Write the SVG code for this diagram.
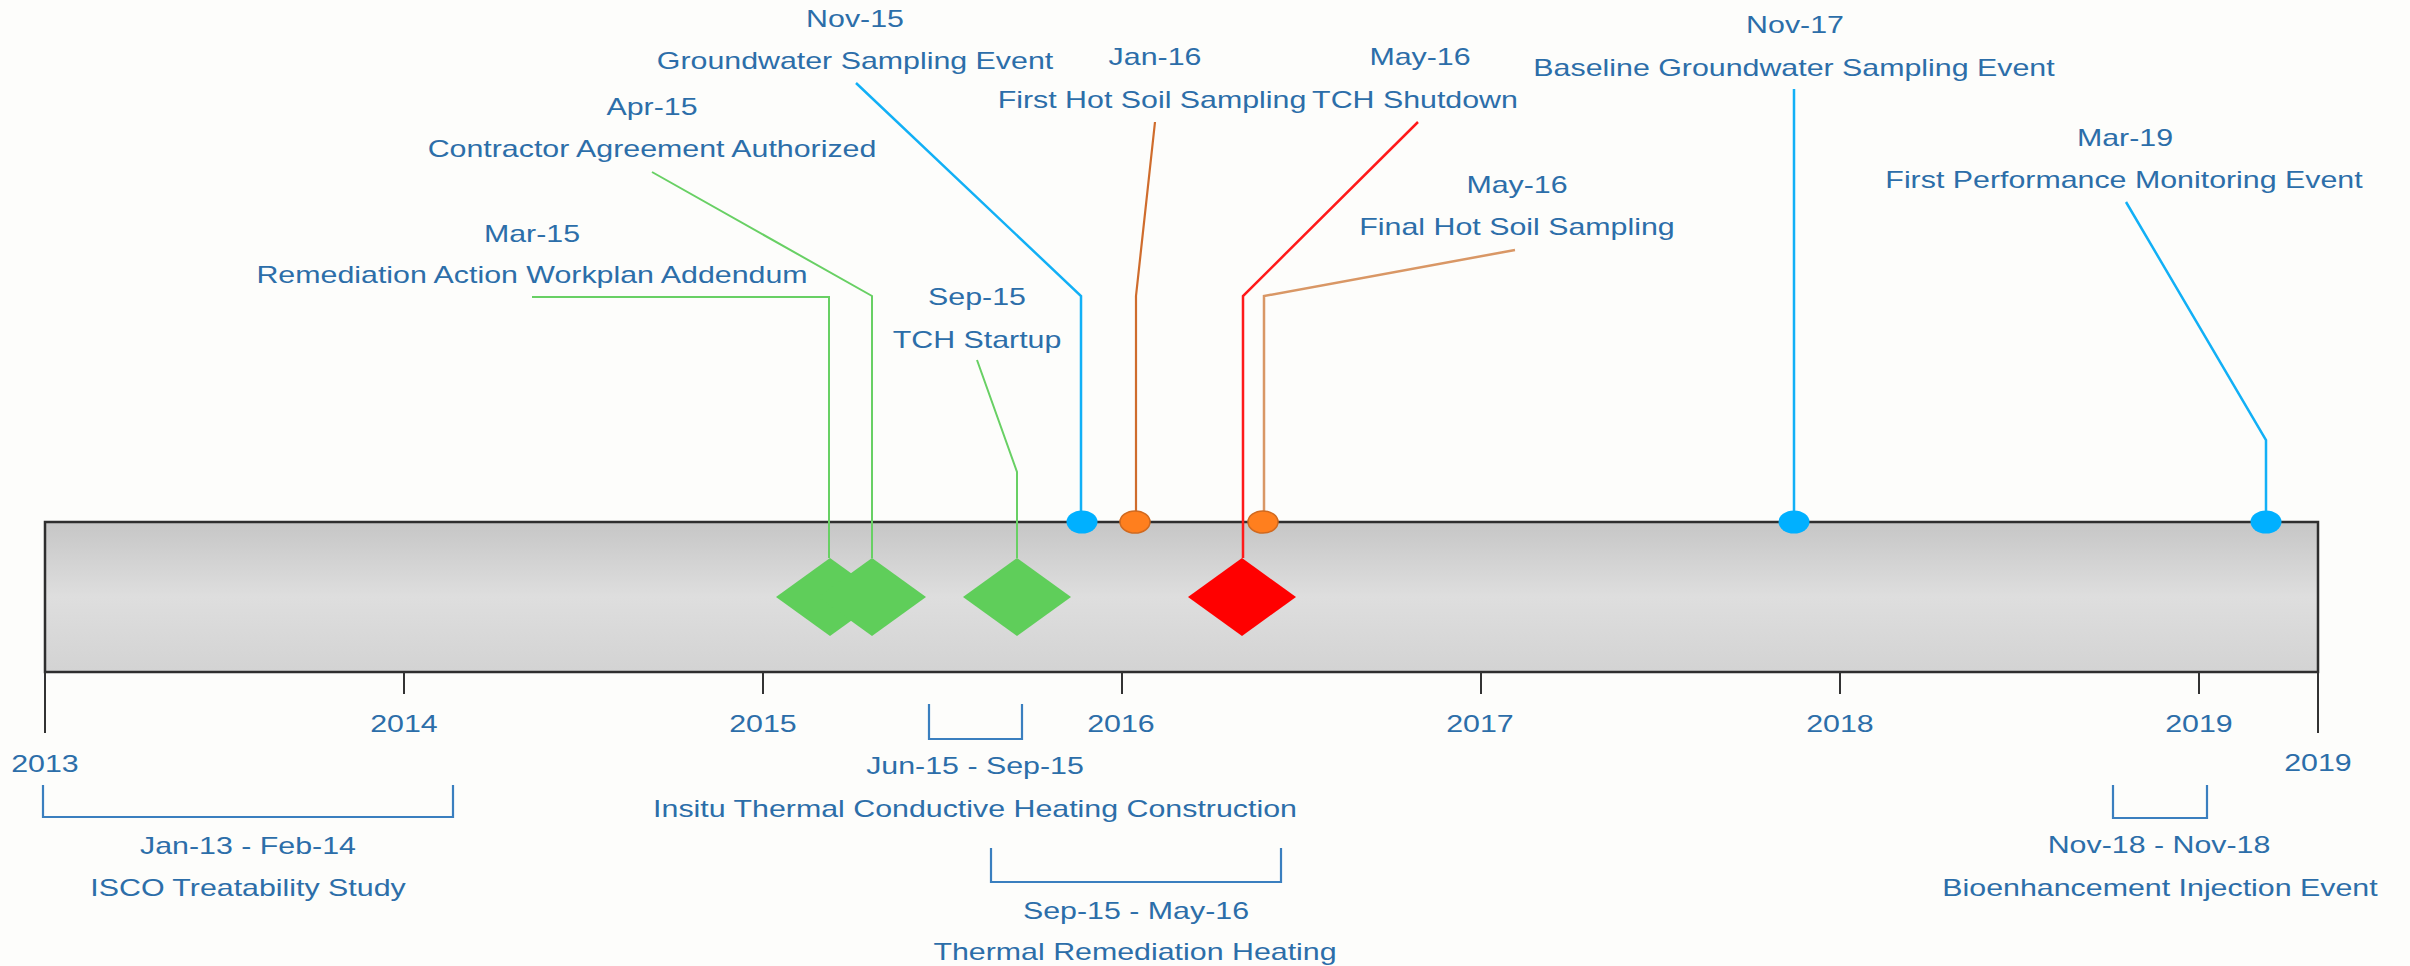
<svg xmlns="http://www.w3.org/2000/svg" width="2410" height="966" viewBox="0 0 2410 966">
  <defs>
    <linearGradient id="barFill" x1="0" y1="0" x2="0" y2="1">
      <stop offset="0" stop-color="#c6c6c6"/>
      <stop offset="0.5" stop-color="#dedede"/>
      <stop offset="1" stop-color="#d3d3d3"/>
    </linearGradient>
    <style>
      text { font-family: "Liberation Sans", Arial, sans-serif; font-size: 23px; fill: #2c6ea9; text-anchor: middle; }
      .tick { stroke: #333333; stroke-width: 2; fill: none; }
      .bracket { stroke: #3a7fbf; stroke-width: 2.2; fill: none; }
      .lead-green { stroke: #68d064; stroke-width: 2; fill: none; }
      .lead-blue { stroke: #12b0f6; stroke-width: 2.5; fill: none; }
      .lead-red { stroke: #ff1a1a; stroke-width: 2.5; fill: none; }
      .lead-orange { stroke: #cf6c2c; stroke-width: 2.2; fill: none; }
      .lead-tan { stroke: #d99765; stroke-width: 2.5; fill: none; }
      .dia-green { fill: #5fce5a; }
      .dia-red { fill: #ff0000; }
      .dot-blue { fill: #00b0ff; }
      .dot-orange { fill: #ff7f1e; stroke: #d0691f; stroke-width: 1.5; }
    </style>
  </defs>

  <rect x="0" y="0" width="2410" height="966" fill="#fdfdfb"/>

  <!-- time axis: bar, year ticks and year labels -->
  <g id="axis">
    <rect x="45" y="522" width="2273" height="150" fill="url(#barFill)" stroke="#2e2e2e" stroke-width="2.5"/>
    <path class="tick" d="M45 672V733M404 672V694M763 672V694M1122 672V694M1481 672V694M1840 672V694M2199 672V694M2318 672V733"/>
    <text transform="translate(45,772) scale(1.32,1)">2013</text>
    <text transform="translate(404,732) scale(1.32,1)">2014</text>
    <text transform="translate(763,732) scale(1.32,1)">2015</text>
    <text transform="translate(1121,732) scale(1.32,1)">2016</text>
    <text transform="translate(1480,732) scale(1.32,1)">2017</text>
    <text transform="translate(1840,732) scale(1.32,1)">2018</text>
    <text transform="translate(2199,732) scale(1.32,1)">2019</text>
    <text transform="translate(2318,771) scale(1.32,1)">2019</text>
  </g>

  <!-- leader lines from labels to markers -->
  <g id="connectors">
    <path class="lead-green" d="M532 297H829V558"/>
    <path class="lead-green" d="M652 172L872 296V558"/>
    <path class="lead-green" d="M977 360L1017 472V558"/>
    <path class="lead-blue" d="M856 83L1081 296V512"/>
    <path class="lead-orange" d="M1155 122L1136 296V512"/>
    <path class="lead-red" d="M1418 122L1243 296V558"/>
    <path class="lead-tan" d="M1515 250L1264 296V512"/>
    <path class="lead-blue" d="M1794 89V512"/>
    <path class="lead-blue" d="M2126 202L2266 440V512"/>
  </g>

  <!-- milestone events -->
  <g id="ev-mar15">
    <polygon class="dia-green" points="830,558 884,597 830,636 776,597"/>
    <text transform="translate(532,242) scale(1.32,1)">Mar-15</text>
    <text transform="translate(532,283) scale(1.32,1)">Remediation Action Workplan Addendum</text>
  </g>
  <g id="ev-apr15">
    <polygon class="dia-green" points="872,558 926,597 872,636 818,597"/>
    <text transform="translate(652,115) scale(1.32,1)">Apr-15</text>
    <text transform="translate(652,157) scale(1.32,1)">Contractor Agreement Authorized</text>
  </g>
  <g id="ev-sep15">
    <polygon class="dia-green" points="1017,558 1071,597 1017,636 963,597"/>
    <text transform="translate(977,305) scale(1.32,1)">Sep-15</text>
    <text transform="translate(977,348) scale(1.32,1)">TCH Startup</text>
  </g>
  <g id="ev-nov15">
    <ellipse class="dot-blue" cx="1082" cy="522" rx="15.5" ry="11.5"/>
    <text transform="translate(855,27) scale(1.32,1)">Nov-15</text>
    <text transform="translate(855,69) scale(1.32,1)">Groundwater Sampling Event</text>
  </g>
  <g id="ev-jan16">
    <ellipse class="dot-orange" cx="1135" cy="522" rx="15" ry="11"/>
    <text transform="translate(1155,65) scale(1.32,1)">Jan-16</text>
    <text transform="translate(1152,108) scale(1.32,1)">First Hot Soil Sampling</text>
  </g>
  <g id="ev-may16-shutdown">
    <polygon class="dia-red" points="1242,558 1296,597 1242,636 1188,597"/>
    <text transform="translate(1420,65) scale(1.32,1)">May-16</text>
    <text transform="translate(1415,108) scale(1.32,1)">TCH Shutdown</text>
  </g>
  <g id="ev-may16-final">
    <ellipse class="dot-orange" cx="1263" cy="522" rx="15" ry="11"/>
    <text transform="translate(1517,193) scale(1.32,1)">May-16</text>
    <text transform="translate(1517,235) scale(1.32,1)">Final Hot Soil Sampling</text>
  </g>
  <g id="ev-nov17">
    <ellipse class="dot-blue" cx="1794" cy="522" rx="15.5" ry="11.5"/>
    <text transform="translate(1795,33) scale(1.32,1)">Nov-17</text>
    <text transform="translate(1794,76) scale(1.32,1)">Baseline Groundwater Sampling Event</text>
  </g>
  <g id="ev-mar19">
    <ellipse class="dot-blue" cx="2266" cy="522" rx="15.5" ry="11.5"/>
    <text transform="translate(2125,146) scale(1.32,1)">Mar-19</text>
    <text transform="translate(2124,188) scale(1.32,1)">First Performance Monitoring Event</text>
  </g>

  <!-- duration spans below the axis -->
  <g id="span-isco">
    <path class="bracket" d="M43 785V817H453V785"/>
    <text transform="translate(248,854) scale(1.32,1)">Jan-13 - Feb-14</text>
    <text transform="translate(248,896) scale(1.32,1)">ISCO Treatability Study</text>
  </g>
  <g id="span-construction">
    <path class="bracket" d="M929 704V739H1022V704"/>
    <text transform="translate(975,774) scale(1.32,1)">Jun-15 - Sep-15</text>
    <text transform="translate(975,817) scale(1.32,1)">Insitu Thermal Conductive Heating Construction</text>
  </g>
  <g id="span-heating">
    <path class="bracket" d="M991 848V882H1281V848"/>
    <text transform="translate(1136,919) scale(1.32,1)">Sep-15 - May-16</text>
    <text transform="translate(1135,960) scale(1.32,1)">Thermal Remediation Heating</text>
  </g>
  <g id="span-bioenhancement">
    <path class="bracket" d="M2113 785V818H2207V785"/>
    <text transform="translate(2159,853) scale(1.32,1)">Nov-18 - Nov-18</text>
    <text transform="translate(2160,896) scale(1.32,1)">Bioenhancement Injection Event</text>
  </g>
</svg>
